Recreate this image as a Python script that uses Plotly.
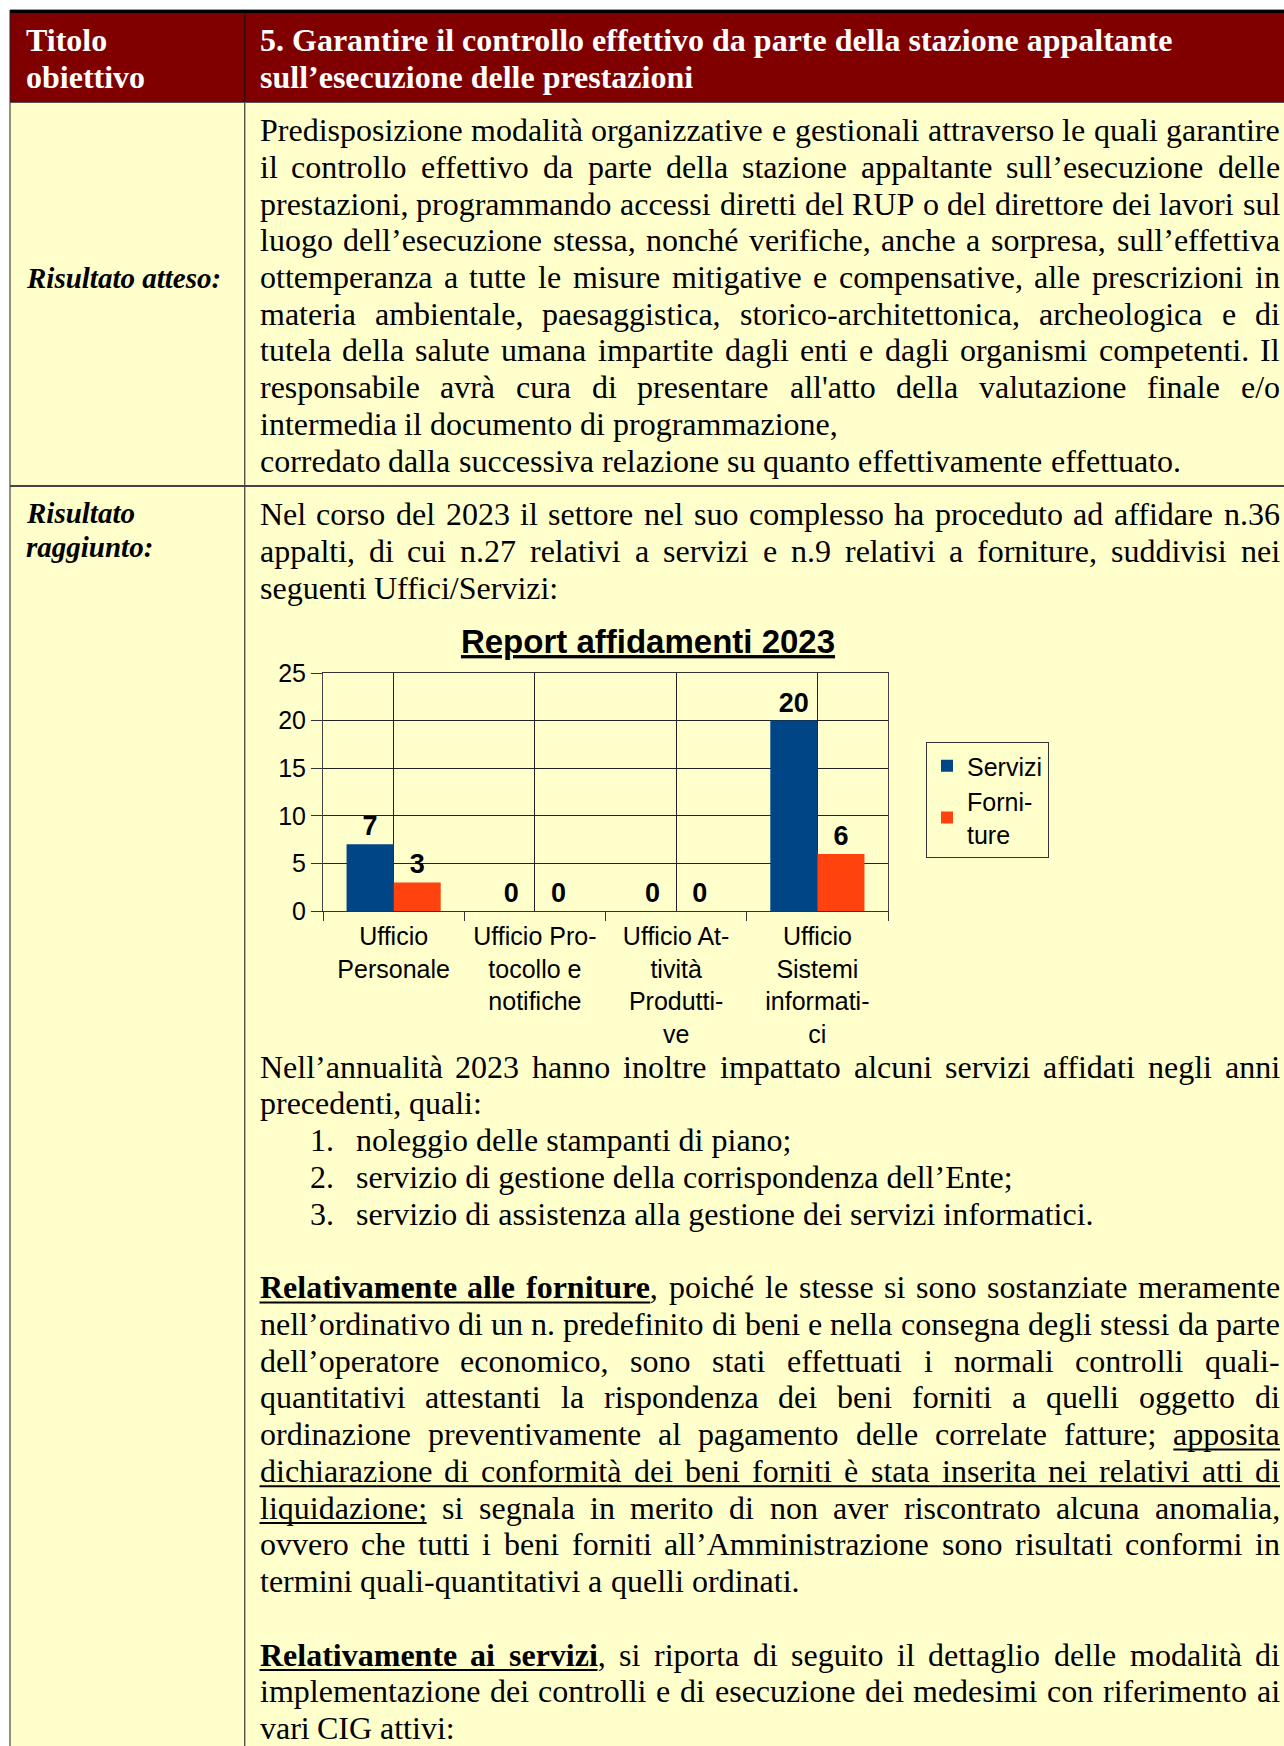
import plotly.graph_objects as go

W, H = 1284, 1746

# ---------------- chart data ----------------
categories = ["Ufficio Personale", "Ufficio Protocollo e notifiche",
              "Ufficio Attività Produttive", "Ufficio Sistemi informatici"]
category_ticktext = ["Ufficio<br>Personale", "Ufficio Pro-<br>tocollo e<br>notifiche",
                     "Ufficio At-<br>tività<br>Produtti-<br>ve", "Ufficio<br>Sistemi<br>informati-<br>ci"]
servizi = [7, 0, 0, 20]
forniture = [3, 0, 0, 6]
legend_names = ["Servizi", "Forni-<br>ture"]
y_range = [0, 25]
y_step = 5
chart_title = "Report affidamenti 2023"

COL_SERV = "#004586"
COL_FORN = "#FF420E"
YELLOW = "#FFFFCC"
DARKRED = "#800000"
SERIF = "Liberation Serif"
SANS = "Liberation Sans"

# ---------------- page text ----------------
header_left = ["Titolo", "obiettivo"]
header_right = ["5. Garantire il controllo effettivo da parte della stazione appaltante",
                "sull’esecuzione delle prestazioni"]
label_row1 = "Risultato atteso:"
label_row2 = ["Risultato", "raggiunto:"]

row1_lines = [
    ("Predisposizione modalità organizzative e gestionali attraverso le quali garantire", True),
    ("il controllo effettivo da parte della stazione appaltante sull’esecuzione delle", True),
    ("prestazioni, programmando accessi diretti del RUP o del direttore dei lavori sul", True),
    ("luogo dell’esecuzione stessa, nonché verifiche, anche a sorpresa, sull’effettiva", True),
    ("ottemperanza a tutte le misure mitigative e compensative, alle prescrizioni in", True),
    ("materia ambientale, paesaggistica, storico-architettonica, archeologica e di", True),
    ("tutela della salute umana impartite dagli enti e dagli organismi competenti. Il", True),
    ("responsabile avrà cura di presentare all'atto della valutazione finale e/o", True),
    ("intermedia il documento di programmazione,", False),
    ("corredato dalla successiva relazione su quanto effettivamente effettuato.", False),
]
row2_intro = [
    ("Nel corso del 2023 il settore nel suo complesso ha proceduto ad affidare n.36", True),
    ("appalti, di cui n.27 relativi a servizi e n.9 relativi a forniture, suddivisi nei", True),
    ("seguenti Uffici/Servizi:", False),
]
row2_block = [
    ("Nell’annualità 2023 hanno inoltre impattato alcuni servizi affidati negli anni", True),
    ("precedenti, quali:", False),
    ("1.|noleggio delle stampanti di piano;", "list"),
    ("2.|servizio di gestione della corrispondenza dell’Ente;", "list"),
    ("3.|servizio di assistenza alla gestione dei servizi informatici.", "list"),
    ("", False),
    ("<b><u>Relativamente alle forniture</u></b>, poiché le stesse si sono sostanziate meramente", True),
    ("nell’ordinativo di un n. predefinito di beni e nella consegna degli stessi da parte", True),
    ("dell’operatore economico, sono stati effettuati i normali controlli quali-", True),
    ("quantitativi attestanti la rispondenza dei beni forniti a quelli oggetto di", True),
    ("ordinazione preventivamente al pagamento delle correlate fatture; <u>apposita</u>", True),
    ("<u>dichiarazione di conformità dei beni forniti è stata inserita nei relativi atti di</u>", True),
    ("<u>liquidazione;</u> si segnala in merito di non aver riscontrato alcuna anomalia,", True),
    ("ovvero che tutti i beni forniti all’Amministrazione sono risultati conformi in", True),
    ("termini quali-quantitativi a quelli ordinati.", False),
    ("", False),
    ("<b><u>Relativamente ai servizi</u></b>, si riporta di seguito il dettaglio delle modalità di", True),
    ("implementazione dei controlli e di esecuzione dei medesimi con riferimento ai", True),
    ("vari CIG attivi:", False),
]

# ---------------- Times metrics (1/1000 em) ----------------
REG = {' ': 250, ',': 250, '.': 250, '-': 333, ':': 278, ';': 278, '/': 278, "'": 180, '’': 333,
       'A': 722, 'B': 667, 'C': 667, 'D': 722, 'E': 611, 'F': 556, 'G': 722, 'H': 722, 'I': 333,
       'J': 389, 'K': 722, 'L': 611, 'M': 889, 'N': 722, 'O': 722, 'P': 556, 'Q': 722, 'R': 667,
       'S': 556, 'T': 611, 'U': 722, 'V': 722, 'W': 944, 'X': 722, 'Y': 722, 'Z': 611,
       'a': 444, 'b': 500, 'c': 444, 'd': 500, 'e': 444, 'f': 333, 'g': 500, 'h': 500, 'i': 278,
       'j': 278, 'k': 500, 'l': 278, 'm': 778, 'n': 500, 'o': 500, 'p': 500, 'q': 500, 'r': 333,
       's': 389, 't': 278, 'u': 500, 'v': 500, 'w': 722, 'x': 500, 'y': 500, 'z': 444}
BOLD = {' ': 250, ',': 250, '.': 250, '-': 333, ':': 333, ';': 333, '’': 333,
        'R': 722, 'S': 556,
        'a': 500, 'b': 556, 'c': 444, 'd': 556, 'e': 444, 'f': 333, 'g': 500, 'h': 556, 'i': 278,
        'j': 333, 'k': 556, 'l': 278, 'm': 833, 'n': 556, 'o': 500, 'p': 556, 'q': 556, 'r': 444,
        's': 389, 't': 333, 'u': 556, 'v': 500, 'w': 722, 'x': 500, 'y': 500, 'z': 444}
ACC = {'à': 'a', 'á': 'a', 'è': 'e', 'é': 'e', 'ì': 'i', 'ò': 'o', 'ù': 'u'}


def cwidth(ch, bold, size):
    ch = ACC.get(ch, ch)
    if ch.isdigit():
        return 500 * size / 1000
    t = BOLD if bold else REG
    return t.get(ch, REG.get(ch, 500)) * size / 1000


def parse(line):
    words, cur = [], []
    bold = ul = False
    i = 0
    while i < len(line):
        for tag, attr, val in (("<b>", "b", True), ("</b>", "b", False),
                               ("<u>", "u", True), ("</u>", "u", False)):
            if line.startswith(tag, i):
                if attr == "b":
                    bold = val
                else:
                    ul = val
                i += len(tag)
                break
        else:
            ch = line[i]
            if ch == ' ':
                if cur:
                    words.append(cur)
                    cur = []
            else:
                cur.append((ch, bold, ul))
            i += 1
    if cur:
        words.append(cur)
    return words


def word_html(word):
    out, curb, buf = [], None, ""
    for ch, b, _ in word:
        if b != curb and buf:
            out.append(f"<b>{buf}</b>" if curb else buf)
            buf = ""
        curb = b
        buf += ch
    if buf:
        out.append(f"<b>{buf}</b>" if curb else buf)
    return "".join(out)


annotations = []
shapes = []


def px(x):
    return x / W


def py(y):
    return 1 - y / H


def add_text(x, base, html, size, anchor="left", color="black", family=SERIF, k=0.3375):
    annotations.append(dict(xref="paper", yref="paper", x=px(x), y=py(base - k * size),
                            text=html, showarrow=False, xanchor=anchor, yanchor="middle",
                            align="left", borderpad=0, borderwidth=0,
                            font=dict(family=family, size=size, color=color)))


def hline(x0, x1, y, color="black", width=1):
    shapes.append(dict(type="line", xref="paper", yref="paper", x0=px(x0), x1=px(x1),
                       y0=py(y), y1=py(y), line=dict(color=color, width=width)))


def vline(x, y0, y1, color="black", width=1):
    shapes.append(dict(type="line", xref="paper", yref="paper", x0=px(x), x1=px(x),
                       y0=py(y0), y1=py(y1), line=dict(color=color, width=width)))


def place_line(line, x0, x1, base, size=32, justify=True):
    words = parse(line)
    if not words:
        return
    widths = [sum(cwidth(c, b, size) for c, b, _ in w) for w in words]
    if justify and len(words) > 1:
        gap = (x1 - x0 - sum(widths)) / (len(words) - 1)
    else:
        gap = 250 * size / 1000
    x = x0
    ul_segs = []
    prev_ul_end = None
    for i, (w, wd) in enumerate(zip(words, widths)):
        last = justify and len(words) > 1 and i == len(words) - 1
        if last:
            add_text(x1, base, word_html(w), size, anchor="right")
            xs = x1 - wd
        else:
            add_text(x, base, word_html(w), size, anchor="left")
            xs = x
        cx = xs
        for j, (c, b, u) in enumerate(w):
            cw = cwidth(c, b, size)
            if u:
                if ul_segs and prev_ul_end is not None and ul_segs[-1][2]:
                    ul_segs[-1][1] = cx + cw
                else:
                    ul_segs.append([cx, cx + cw, True])
                prev_ul_end = cx + cw
            else:
                if ul_segs:
                    ul_segs[-1][2] = False
                prev_ul_end = None
            cx += cw
        x = xs + wd + gap
    for a, b, _ in ul_segs:
        hline(a, b, base + 4.5, width=2)


# ---------------- table background & borders ----------------
shapes.append(dict(type="rect", xref="paper", yref="paper", x0=px(10), x1=px(W + 5),
                   y0=py(102), y1=py(H + 5), fillcolor=YELLOW, line=dict(width=0), layer="below"))
shapes.append(dict(type="rect", xref="paper", yref="paper", x0=px(10), x1=px(W + 5),
                   y0=py(10), y1=py(102), fillcolor=DARKRED, line=dict(width=0), layer="below"))
hline(10, W + 5, 9.5, color="#9a9a9a", width=1)
shapes.append(dict(type="rect", xref="paper", yref="paper", x0=px(10), x1=px(W + 5),
                   y0=py(10), y1=py(13), fillcolor="black", line=dict(width=0)))
vline(10, 10, H + 5, color="#222222", width=1)
vline(244.8, 13, H + 5, color="#111111", width=1)
hline(10, W + 5, 102.5, color="#555555", width=1)
hline(10, W + 5, 486, color="#444444", width=2)

# ---------------- header & labels ----------------
HB = [50.7, 87.45]
for t, b in zip(header_left, HB):
    add_text(26, b, f"<b>{t}</b>", 32, color="white")
for t, b in zip(header_right, HB):
    add_text(260, b, f"<b>{t}</b>", 32, color="white")
add_text(26, 288, f"<b><i>{label_row1}</i></b>", 29)
for t, b in zip(label_row2, [523, 556.4]):
    add_text(26, b, f"<b><i>{t}</i></b>", 29)

# ---------------- body text ----------------
LX, RX, LS = 259.5, 1280, 36.75
DY = 1.5
for i, (t, j) in enumerate(row1_lines):
    place_line(t, LX, RX, 139.3 + DY + i * LS, justify=j)
for i, (t, j) in enumerate(row2_intro):
    place_line(t, LX, RX, 523.3 + DY + i * LS, justify=j)
for i, (t, j) in enumerate(row2_block):
    b = 1076 + DY + i * LS
    if j == "list":
        num, body = t.split("|")
        add_text(310, b, num, 32)
        add_text(356, b, body, 32)
    elif t:
        place_line(t, LX, RX, b, justify=j)

# ---------------- chart ----------------
idx = list(range(len(categories)))
fig = go.Figure()
fig.add_trace(go.Bar(x=idx, y=servizi, name=legend_names[0], marker=dict(color=COL_SERV, line=dict(width=0)),
                     text=servizi, textposition="outside", cliponaxis=False, constraintext="none",
                     textfont=dict(family=SANS, size=27, color="black", weight="bold"),
                     hovertext=categories))
fig.add_trace(go.Bar(x=idx, y=forniture, name=legend_names[1], marker=dict(color=COL_FORN, line=dict(width=0)),
                     text=forniture, textposition="outside", cliponaxis=False, constraintext="none",
                     textfont=dict(family=SANS, size=27, color="black", weight="bold"),
                     hovertext=categories))

x_dom = [px(323), px(888)]
y_dom = [py(911), py(673)]
bounds = [i - 0.5 for i in range(len(categories) + 1)]

fig.update_layout(
    width=W, height=H, margin=dict(l=0, r=0, t=0, b=0, autoexpand=False),
    paper_bgcolor="white", plot_bgcolor=YELLOW,
    barmode="group", bargap=1 / 3, bargroupgap=0,
    font=dict(family=SANS, size=25, color="black"),
    title=dict(text=chart_title, x=px(648), xref="paper", xanchor="center",
               y=py(641.5), yref="paper", yanchor="middle",
               font=dict(family=SANS, size=33, color="black", weight="bold", lineposition="under")),
    xaxis=dict(domain=x_dom, range=[-0.5, len(categories) - 0.5], tickmode="array",
               tickvals=idx, ticktext=category_ticktext, tickangle=0, ticks="",
               ticklabelstandoff=3,
               tickfont=dict(family=SANS, size=25, color="black"),
               showgrid=True, gridcolor="#222222", gridwidth=1, zeroline=False,
               showline=True, linecolor="#333333", linewidth=1, mirror=True,
               minor=dict(tickmode="array", tickvals=bounds, ticks="outside", ticklen=9,
                          tickcolor="#333333", tickwidth=1, showgrid=False),
               fixedrange=True),
    yaxis=dict(domain=y_dom, range=y_range, tickmode="linear", tick0=0, dtick=y_step,
               ticks="outside", ticklen=11, tickcolor="#333333",
               tickfont=dict(family=SANS, size=25, color="black"),
               showgrid=True, gridcolor="#222222", gridwidth=1, zeroline=False,
               showline=True, linecolor="#444444", linewidth=1, mirror=True, fixedrange=True),
    legend=dict(x=px(926), y=py(742), xanchor="left", yanchor="top",
                font=dict(family=SANS, size=25, color="black"),
                bgcolor=YELLOW, bordercolor="#333333", borderwidth=1, tracegroupgap=6),
    showlegend=True,
    annotations=annotations,
    shapes=shapes,
)

fig.write_html("out.html", config={"displayModeBar": False},
               post_script="document.body.style.margin='0';document.body.style.overflow='hidden';")
